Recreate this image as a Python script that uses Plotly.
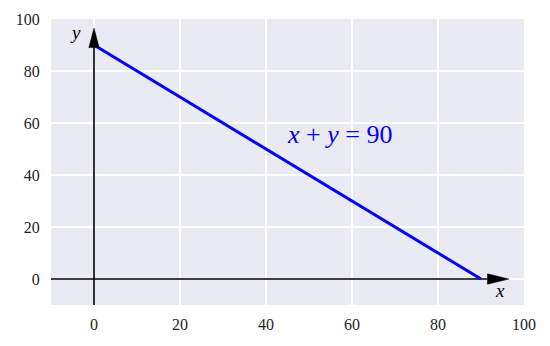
import plotly.graph_objects as go

# data
line_x = [0, 90]
line_y = [90, 0]
x_ticks = [0, 20, 40, 60, 80, 100]
y_ticks = [0, 20, 40, 60, 80, 100]
x_range = [-10, 100]
y_range = [-10, 100]
eq_label = "<i>x</i> + <i>y</i> = 90"
eq_pos = (44.5, 55.5)
x_axis_end = 96.5
y_axis_end = 96.5
head_len = 5.0
x_head_half = 2.0   # in y units
y_head_half = 1.2   # in x units

fig = go.Figure()

# axis lines
fig.add_trace(go.Scatter(x=[x_range[0], x_axis_end - head_len], y=[0, 0], mode="lines",
                         line=dict(color="black", width=1.6), hoverinfo="skip", showlegend=False))
fig.add_trace(go.Scatter(x=[0, 0], y=[y_range[0], y_axis_end - head_len], mode="lines",
                         line=dict(color="black", width=1.6), hoverinfo="skip", showlegend=False))

# main line
fig.add_trace(go.Scatter(x=line_x, y=line_y, mode="lines",
                         line=dict(color="#0000ff", width=3), hoverinfo="skip", showlegend=False))

shapes = []
bx = x_axis_end - head_len
shapes.append(dict(type="path", xref="x", yref="y",
                   path=f"M {bx},{-x_head_half} L {x_axis_end},0 L {bx},{x_head_half} Z",
                   fillcolor="black", line=dict(color="black", width=0.5), layer="above"))
by = y_axis_end - head_len * 1.5
shapes.append(dict(type="path", xref="x", yref="y",
                   path=f"M {-y_head_half},{by} L 0,{y_axis_end} L {y_head_half},{by} Z",
                   fillcolor="black", line=dict(color="black", width=0.5), layer="above"))

serif = '"Liberation Serif", "DejaVu Serif", serif'
annotations = [
    dict(x=eq_pos[0], y=eq_pos[1], text=eq_label, showarrow=False, xanchor="left", yanchor="middle",
         font=dict(family=serif, size=26, color="#0000ff")),
    dict(x=-2.5, y=y_axis_end - 1.5, text="<i>y</i>", showarrow=False, xanchor="right", yanchor="middle",
         font=dict(family=serif, size=19, color="black")),
    dict(x=x_axis_end - 2, y=-4.5, text="<i>x</i>", showarrow=False, xanchor="center", yanchor="middle",
         font=dict(family=serif, size=19, color="black")),
]

fig.update_layout(
    width=550, height=346,
    margin=dict(l=51, r=26, t=19, b=41),
    paper_bgcolor="white", plot_bgcolor="#EAEAF2",
    shapes=shapes, annotations=annotations,
    font=dict(family=serif, size=16, color="#262626"),
    xaxis=dict(range=x_range, tickvals=x_ticks, showgrid=True, gridcolor="white", gridwidth=1.5,
               zeroline=False, showline=False, ticks="outside", ticklen=5, tickcolor="rgba(0,0,0,0)",
               tickfont=dict(family=serif, size=16, color="#262626")),
    yaxis=dict(range=y_range, tickvals=y_ticks, showgrid=True, gridcolor="white", gridwidth=1.5,
               zeroline=False, showline=False, ticks="outside", ticklen=7, tickcolor="rgba(0,0,0,0)",
               tickfont=dict(family=serif, size=16, color="#262626")),
)

fig.write_html("out.html")
